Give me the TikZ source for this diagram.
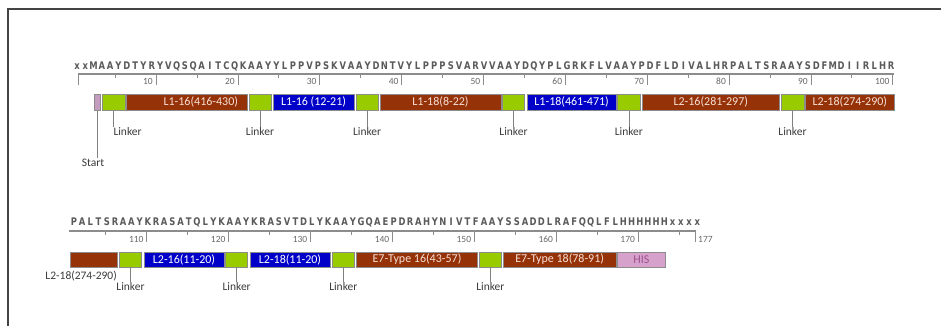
\documentclass[tikz,border=0pt]{standalone}
\usepackage{fontspec}
\setmainfont{Carlito}
\newfontfamily\seqfont[FakeStretch=0.8]{DejaVu Sans Bold}
\definecolor{brn}{HTML}{963208}
\definecolor{blu}{HTML}{0000C8}
\definecolor{grn}{HTML}{99CC00}
\definecolor{his}{HTML}{D6A2CC}
\definecolor{stc}{HTML}{C49CBE}
\definecolor{brtext}{HTML}{F6E0D6}
\definecolor{histext}{HTML}{A0508C}
\definecolor{seqc}{HTML}{5A5A5A}
\definecolor{lbltext}{HTML}{3A3A3A}
\definecolor{framec}{HTML}{444444}
\tikzset{
  segbox/.style={draw=black!45, line width=0.5pt, inner sep=0pt, text=white, font=\fontsize{12}{12}\selectfont},
  brownseg/.style={segbox, fill=brn, text=brtext},
  blueseg/.style={segbox, fill=blu},
  linkseg/.style={segbox, fill=grn},
  hisseg/.style={segbox, fill=his, text=histext},
  startseg/.style={segbox, fill=stc},
  lbl/.style={font=\fontsize{11.5}{12}\selectfont, text=lbltext, inner sep=0.5pt},
  pin/.style={draw=black!50, line width=0.6pt},
  seq/.style={font=\seqfont\fontsize{10.5}{11}\selectfont, text=seqc, inner sep=0pt, anchor=base},
  ruler/.style={draw=black!45, line width=1.2pt},
  tickmark/.style={draw=black!45, line width=0.7pt},
  ticklbl/.style={font=\fontsize{9.5}{9.5}\selectfont, text=black!60, inner sep=0pt, anchor=east},
}
% name, x1, x2, yc, h, style, text
\newcommand\seg[7]{%
  \pgfmathsetmacro\segw{#3-#2}\pgfmathsetmacro\segx{(#2+#3)/2}%
  \node[#6, minimum width=\segw pt, minimum height=#5pt] (#1) at (\segx,#4) {#7};}
\begin{document}
\begin{tikzpicture}[x=1pt, y=-1pt]
\useasboundingbox (0,0) rectangle (941,325);
% frame
\draw[framec, line width=1.8pt] (8,326) -- (8,9) -- (942,9);

% ---------------- Row 1 ----------------
\foreach \c [count=\i] in {x,x,M,A,A,Y,D,T,Y,R,Y,V,Q,S,Q,A,I,T,C,Q,K,A,A,Y,Y,L,P,P,V,P,S,K,V,A,A,Y,D,N,T,V,Y,L,P,P,P,S,V,A,R,V,V,A,A,Y,D,Q,Y,P,L,G,R,K,F,L,V,A,A,Y,P,D,F,L,D,I,V,A,L,H,R,P,A,L,T,S,R,A,A,Y,S,D,F,M,D,I,I,R,L,H,R}
  \node[seq] (a\i) at ({77+(\i-1)*8.306},69) {\c};
\draw[ruler] (78,74) -- (894,74);
\draw[tickmark] (78,74) -- (78,85);
\foreach \t in {10,20,...,100} {
  \pgfmathsetmacro\tx{156+(\t-10)*8.186}
  \draw[tickmark] (\tx,74) -- (\tx,85);
  \node[ticklbl] (ra\t) at (\tx-3,81.5) {\t};
}
\foreach \t in {5,15,...,95} {
  \pgfmathsetmacro\tx{156+(\t-10)*8.186}
  \draw[tickmark] (\tx,74) -- (\tx,78);
}
\seg{st}{94}{100.7}{102.4}{16.6}{startseg}{}
\seg{lk1}{102}{125}{102.4}{16.6}{linkseg}{}
\seg{b1}{126.7}{247.3}{102.4}{16.6}{brownseg}{}
\node[font=\fontsize{12}{12}\selectfont, text=brtext, inner sep=0pt] (b1t) at (200.8,102.4) {L1-16(416-430)};
\seg{lk2}{249}{271}{102.4}{16.6}{linkseg}{}
\seg{b2}{273}{354}{102.4}{16.6}{blueseg}{L1-16 (12-21)}
\seg{lk3}{356}{378.3}{102.4}{16.6}{linkseg}{}
\seg{b3}{380}{501}{102.4}{16.6}{brownseg}{L1-18(8-22)}
\seg{lk4}{502.3}{524.7}{102.4}{16.6}{linkseg}{}
\seg{b4}{527.3}{616}{102.4}{16.6}{blueseg}{L1-18(461-471)}
\seg{lk5}{617.7}{640}{102.4}{16.6}{linkseg}{}
\seg{b5}{642.3}{779.3}{102.4}{16.6}{brownseg}{L2-16(281-297)}
\seg{lk6}{781}{804}{102.4}{16.6}{linkseg}{}
\seg{b6}{805.7}{894}{102.4}{16.6}{brownseg}{L2-18(274-290)}

\node[lbl, anchor=north] (stl) at (93,158) {Start};
\draw[pin] (st.south) -- (st.south |- stl.north);
\node[lbl, anchor=north west] (ll1) at (112.8,127) {Linker};
\draw[pin] (lk1.south) -- (lk1.south |- ll1.north);
\foreach \k in {2,...,6} {
  \node[lbl, anchor=north] (ll\k) at (lk\k.south |- 0,127) {Linker};
  \draw[pin] (lk\k.south) -- (ll\k.north);
}

% ---------------- Row 2 ----------------
\foreach \c [count=\i] in {P,A,L,T,S,R,A,A,Y,K,R,A,S,A,T,Q,L,Y,K,A,A,Y,K,R,A,S,V,T,D,L,Y,K,A,A,Y,G,Q,A,E,P,D,R,A,H,Y,N,I,V,T,F,A,A,Y,S,S,A,D,D,L,R,A,F,Q,Q,L,F,L,H,H,H,H,H,H,x,x,x,x}
  \node[seq] (c\i) at ({74+(\i-1)*8.2},225) {\c};
\draw[ruler] (69,231) -- (696,231);
\foreach \t in {110,120,...,170} {
  \pgfmathsetmacro\tx{146.7+(\t-110)*8.19}
  \draw[tickmark] (\tx,231) -- (\tx,242);
  \node[ticklbl] (rb\t) at (\tx-3,239) {\t};
}
\foreach \t in {105,115,...,175} {
  \pgfmathsetmacro\tx{146.7+(\t-110)*8.19}
  \draw[tickmark] (\tx,231) -- (\tx,235);
}
\draw[tickmark] (695.4,231) -- (695.4,242);
\node[ticklbl, anchor=west] (rbend) at (698,239) {177};

\seg{d1}{70.7}{117.3}{259.5}{15}{brownseg}{}
\seg{mk1}{119.3}{141.7}{259.5}{15}{linkseg}{}
\seg{d2}{144}{224}{259.5}{15}{blueseg}{L2-16(11-20)}
\seg{mk2}{225.7}{247.7}{259.5}{15}{linkseg}{}
\seg{d3}{250}{330}{259.5}{15}{blueseg}{L2-18(11-20)}
\seg{mk3}{332.3}{354.3}{259.5}{15}{linkseg}{}
\seg{d4}{356.7}{477.3}{259.5}{15}{brownseg}{E7-Type 16(43-57)}
\seg{mk4}{479}{501.7}{259.5}{15}{linkseg}{}
\seg{d5}{503.3}{616}{259.5}{15}{brownseg}{E7-Type 18(78-91)}
\seg{d6}{617.7}{665}{259.5}{15}{hisseg}{HIS}

\node[lbl, anchor=east] (d1l) at (117.5,276) {L2-18(274-290)};
\foreach \k in {1,...,4} {
  \node[lbl, anchor=north] (ml\k) at (mk\k.south |- 0,282) {Linker};
  \draw[pin] (mk\k.south) -- (ml\k.north);
}
\end{tikzpicture}
\end{document}
